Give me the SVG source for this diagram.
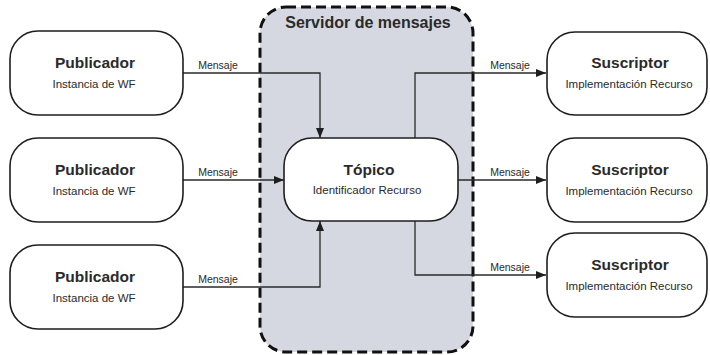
<svg xmlns="http://www.w3.org/2000/svg" width="710" height="355" viewBox="0 0 710 355">
<style>
.box{fill:#fff;stroke:#1e1e1e;stroke-width:1.6}
.t{font-family:"Liberation Sans",Arial,sans-serif;font-weight:bold;font-size:15.5px;fill:#2a2a2a;text-anchor:middle}
.s{font-family:"Liberation Sans",Arial,sans-serif;font-size:11.5px;fill:#2a2a2a;text-anchor:middle}
.lbl{font-family:"Liberation Sans",Arial,sans-serif;font-size:10.5px;fill:#2a2a2a;text-anchor:middle}
.c{fill:none;stroke:#2a2a2a;stroke-width:1.3}
</style>
<defs>
<marker id="arr" viewBox="0 0 10 8" refX="10" refY="4" markerWidth="10" markerHeight="8" markerUnits="userSpaceOnUse" orient="auto">
<path d="M0,0 L10,4 L0,8 Z" fill="#1e1e1e"/>
</marker>
</defs>
<g id="servidor">
<rect x="260" y="7" width="213" height="345" rx="26" fill="#d5d8e0" stroke="#111" stroke-width="3" stroke-dasharray="10,5"/>
<text class="t" x="368" y="28" style="font-size:16px">Servidor de mensajes</text>
</g>
<g id="connectors">
<path class="c" d="M183,73 H320 V138" marker-end="url(#arr)"/>
<path class="c" d="M183,180 H284" marker-end="url(#arr)"/>
<path class="c" d="M183,287 H320 V221" marker-end="url(#arr)"/>
<path class="c" d="M415,138 V73 H546" marker-end="url(#arr)"/>
<path class="c" d="M458,180 H546" marker-end="url(#arr)"/>
<path class="c" d="M415,221 V275 H546" marker-end="url(#arr)"/>
<text class="lbl" x="218" y="69">Mensaje</text>
<text class="lbl" x="218" y="176">Mensaje</text>
<text class="lbl" x="218" y="283">Mensaje</text>
<text class="lbl" x="510" y="69">Mensaje</text>
<text class="lbl" x="510" y="176">Mensaje</text>
<text class="lbl" x="510" y="271">Mensaje</text>
</g>
<g id="pub1">
<rect class="box" x="10" y="31" width="173" height="84" rx="28"/>
<text class="t" x="95" y="68">Publicador</text>
<text class="s" x="94" y="88">Instancia de WF</text>
</g>
<g id="pub2">
<rect class="box" x="10" y="138" width="173" height="84" rx="28"/>
<text class="t" x="95" y="175">Publicador</text>
<text class="s" x="94" y="195">Instancia de WF</text>
</g>
<g id="pub3">
<rect class="box" x="10" y="245" width="173" height="84" rx="28"/>
<text class="t" x="95" y="282">Publicador</text>
<text class="s" x="94" y="302">Instancia de WF</text>
</g>
<g id="topico">
<rect class="box" x="284" y="138" width="174" height="83" rx="28"/>
<text class="t" x="369" y="175">Tópico</text>
<text class="s" x="367" y="194">Identificador Recurso</text>
</g>
<g id="sus1">
<rect class="box" x="547" y="32" width="160" height="83" rx="28"/>
<text class="t" x="630" y="68">Suscriptor</text>
<text class="s" x="629" y="88">Implementación Recurso</text>
</g>
<g id="sus2">
<rect class="box" x="547" y="138" width="160" height="84" rx="28"/>
<text class="t" x="630" y="175">Suscriptor</text>
<text class="s" x="629" y="195">Implementación Recurso</text>
</g>
<g id="sus3">
<rect class="box" x="547" y="233" width="160" height="84" rx="28"/>
<text class="t" x="630" y="270">Suscriptor</text>
<text class="s" x="629" y="290">Implementación Recurso</text>
</g>
</svg>
